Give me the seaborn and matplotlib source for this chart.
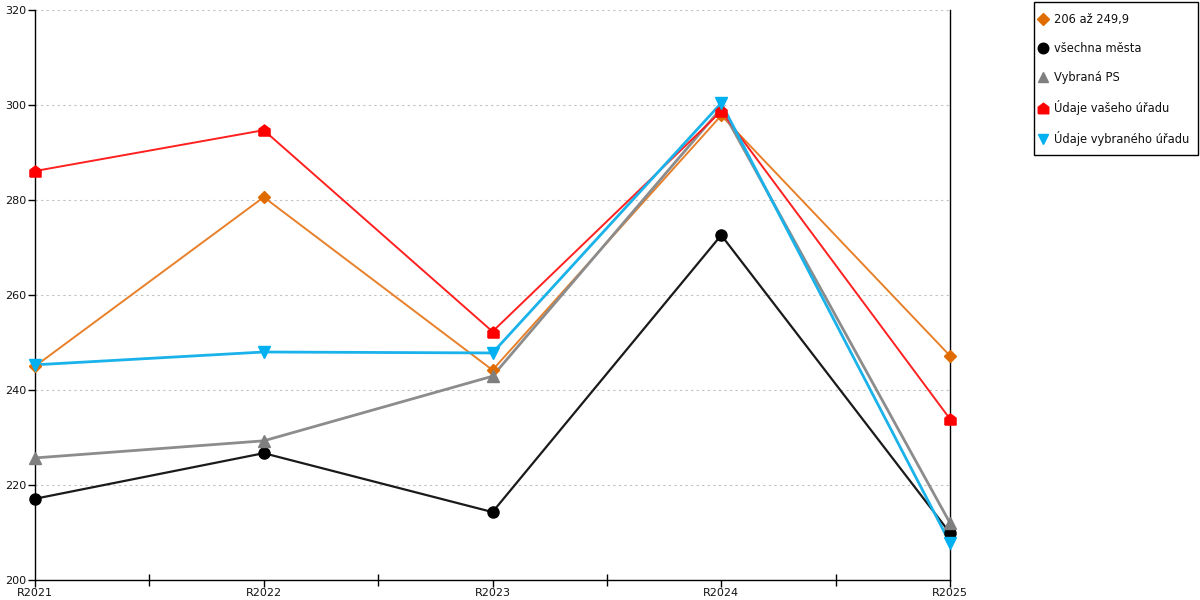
import pandas as pd
import numpy as np
import matplotlib
matplotlib.use("Agg")
import matplotlib.pyplot as plt
import seaborn as sns
from matplotlib.lines import Line2D
from matplotlib.patches import Rectangle

years = ["R2021", "R2022", "R2023", "R2024", "R2025"]

orange_vals = [245.0, 280.6, 244.2, 297.8, 247.2]
black_vals = [217.1, 226.7, 214.3, 272.6, 209.9]
gray_vals = [225.7, 229.3, 242.9, 299.3, 212.0]
red_vals = [286.1, 294.7, 252.3, 298.7, 233.9]
blue_vals = [245.3, 248.0, 247.8, 300.4, 207.8]

names = ["206 až 249,9", "všechna města", "Vybraná PS", "Údaje vašeho úřadu", "Údaje vybraného úřadu"]

# house shaped marker for red series
house = [(-1, -1), (1, -1), (1, 0.25), (0, 1), (-1, 0.25), (-1, -1)]

styles = {
    names[0]: dict(line="#E8802A", mk="#E06C00", marker="D", ms=6, lw=1.4),
    names[1]: dict(line="#1a1a1a", mk="black", marker="o", ms=8, lw=1.6),
    names[2]: dict(line="#8c8c8c", mk="#7f7f7f", marker="^", ms=8, lw=2.0),
    names[3]: dict(line="#FF2020", mk="red", marker=house, ms=8, lw=1.4),
    names[4]: dict(line="#1AB2EA", mk="#00B0F0", marker="v", ms=8, lw=2.0),
}

rows = []
for name, vals in zip(names, [orange_vals, black_vals, gray_vals, red_vals, blue_vals]):
    for i, v in enumerate(vals):
        rows.append({"rok": i, "hodnota": v, "serie": name})
df = pd.DataFrame(rows)

sns.set_style("white")
plt.rcParams['font.family'] = ['DejaVu Sans']
plt.rcParams['xtick.bottom'] = True
plt.rcParams['ytick.left'] = True

fig = plt.figure(figsize=(12, 6), dpi=100)
ax = fig.add_axes([35 / 1200, 1 - 580 / 600, (950 - 35) / 1200, 570 / 600])

for name in names:
    st = styles[name]
    sub = df[df["serie"] == name]
    sns.lineplot(data=sub, x="rok", y="hodnota", ax=ax, color=st["line"], lw=st["lw"],
                 legend=False, zorder=2)
    ax.plot(sub["rok"], sub["hodnota"], linestyle="none", marker=st["marker"],
            ms=st["ms"], color=st["mk"], mec=st["mk"], zorder=3, clip_on=False)

ax.set_xlim(0, 4)
ax.set_ylim(200, 320)
ax.set_xticks(range(5))
ax.set_xticklabels(years)
ax.set_xticks(np.arange(0.5, 4, 1), minor=True)
ax.set_yticks(range(200, 321, 20))
ax.tick_params(axis="x", which="major", bottom=True, direction="out", length=5, width=1,
               color="black", labelsize=8, labelcolor="#111111", pad=1)
ax.tick_params(axis="x", which="minor", bottom=True, direction="inout", length=8, width=1,
               color="black")
ax.tick_params(axis="y", left=True, direction="out", length=5, width=1, color="black",
               labelsize=8, labelcolor="#111111", pad=1)
ax.set_xlabel("")
ax.set_ylabel("")

ax.yaxis.grid(True, linestyle=(0, (2, 3)), color="#c0c0c0", lw=0.8)
ax.xaxis.grid(False)
ax.set_axisbelow(True)
for s in ["left", "bottom", "right"]:
    ax.spines[s].set_visible(True)
    ax.spines[s].set_color("black")
    ax.spines[s].set_linewidth(1)
ax.spines["top"].set_visible(False)

# legend box drawn separately so padding can differ per side
fig.patches.append(Rectangle((1034 / 1200, 1 - 155 / 600), 164 / 1200, 153 / 600,
                             transform=fig.transFigure, facecolor="white",
                             edgecolor="black", lw=1, zorder=0))

handles = []
for name in names:
    st = styles[name]
    handles.append(Line2D([], [], linestyle="none", marker=st["marker"], color=st["mk"],
                          ms=st["ms"] * 0.95, mec=st["mk"]))
leg = fig.legend(handles, names, loc="upper left", bbox_to_anchor=(1038 / 1200, 1 - 13 / 600),
                 fontsize=8.3, frameon=False, labelspacing=1.38, handletextpad=0.6,
                 handlelength=0.8, borderpad=0, borderaxespad=0)
for t in leg.get_texts():
    t.set_color("#111111")

fig.savefig("out.png", dpi=100)
